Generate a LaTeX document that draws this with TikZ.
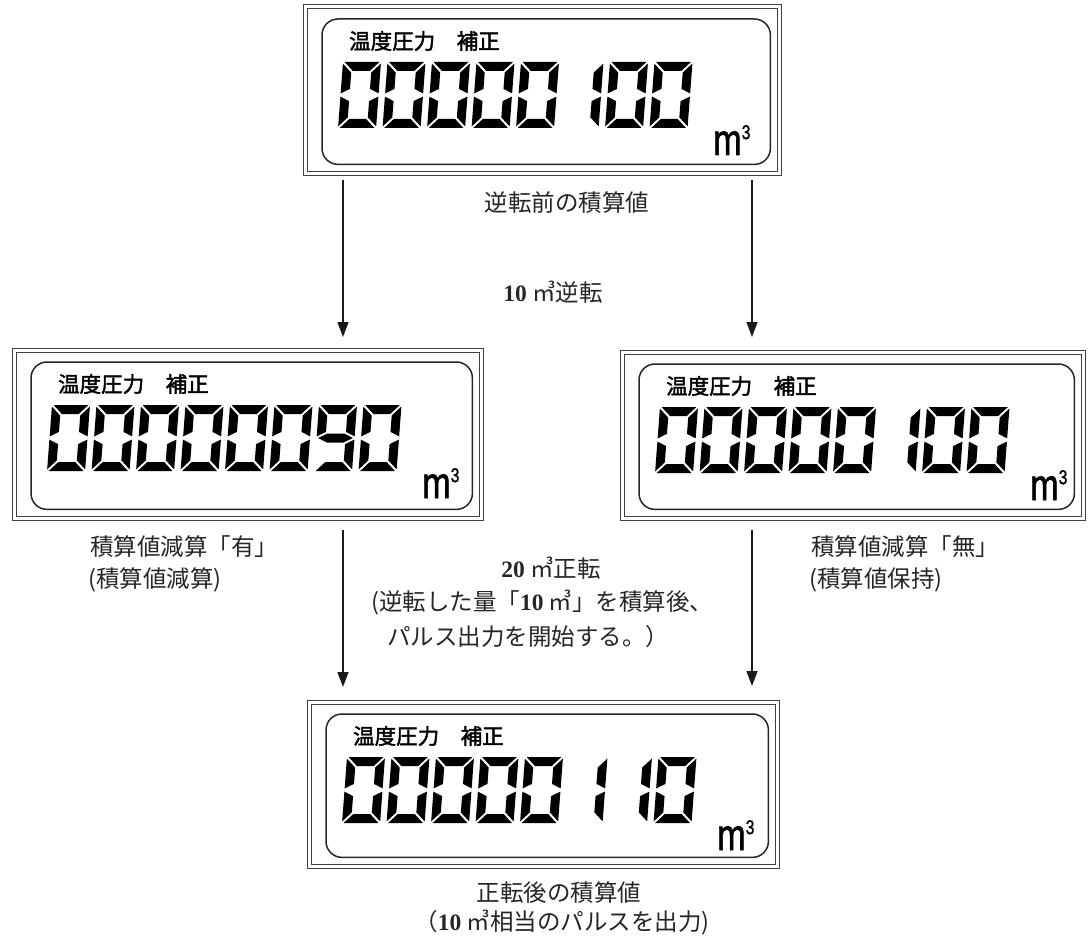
\documentclass[tikz,border=0pt]{standalone}
\usepackage{fontspec}
\newfontfamily\jp{Noto Sans CJK JP}
\newfontfamily\jpb{Noto Sans CJK JP}[FakeBold=2]
\newfontfamily\unitfont{Liberation Sans}[FakeBold=1.5]
\newfontfamily\numfont{Liberation Serif}
\usetikzlibrary{arrows.meta}
\newcommand\num[1]{{\numfont\bfseries #1}}
\def\dgW{38}\def\dgH{66}\def\dgT{9}\def\dgG{1.6}
\newcommand\sgA{\fill[seg] (\dgG,0) -- ({\dgW-\dgG},0) -- ({\dgW-\dgT-\dgG},\dgT) -- ({\dgT+\dgG},\dgT) -- cycle;}
\newcommand\sgD{\fill[seg] (\dgG,\dgH) -- ({\dgW-\dgG},\dgH) -- ({\dgW-\dgT-\dgG},{\dgH-\dgT}) -- ({\dgT+\dgG},{\dgH-\dgT}) -- cycle;}
\newcommand\sgF{\fill[seg] (0,\dgG) -- (\dgT,{\dgT+\dgG}) -- (\dgT,{\dgH/2-\dgT/2-\dgG}) -- (0,{\dgH/2-\dgG}) -- cycle;}
\newcommand\sgB{\fill[seg] (\dgW,\dgG) -- ({\dgW-\dgT},{\dgT+\dgG}) -- ({\dgW-\dgT},{\dgH/2-\dgT/2-\dgG}) -- (\dgW,{\dgH/2-\dgG}) -- cycle;}
\newcommand\sgE{\fill[seg] (0,{\dgH/2+\dgG}) -- (\dgT,{\dgH/2+\dgT/2+\dgG}) -- (\dgT,{\dgH-\dgT-\dgG}) -- (0,{\dgH-\dgG}) -- cycle;}
\newcommand\sgC{\fill[seg] (\dgW,{\dgH/2+\dgG}) -- ({\dgW-\dgT},{\dgH/2+\dgT/2+\dgG}) -- ({\dgW-\dgT},{\dgH-\dgT-\dgG}) -- (\dgW,{\dgH-\dgG}) -- cycle;}
\newcommand\sgG{\fill[seg] (\dgG,{\dgH/2}) -- ({\dgT+\dgG},{\dgH/2-\dgT/2}) -- ({\dgW-\dgT-\dgG},{\dgH/2-\dgT/2}) -- ({\dgW-\dgG},{\dgH/2}) -- ({\dgW-\dgT-\dgG},{\dgH/2+\dgT/2}) -- ({\dgT+\dgG},{\dgH/2+\dgT/2}) -- cycle;}
\newcommand\lcddigit[3]{%
  \begin{scope}[shift={({#1},{#2})}, xslant=0.075]
    \ifcase#3\relax \sgA\sgB\sgC\sgD\sgE\sgF\or \sgB\sgC\or\or\or\or\or\or\or\or \sgA\sgB\sgC\sgD\sgF\sgG\fi
  \end{scope}}
\newcommand\lcdbox[6]{%
  \node[inner sep=0, minimum width=#4pt, minimum height=#5pt, anchor=north west] (#1) at (#2,#3) {};
  \draw[frameline] (#1.north west) rectangle (#1.south east);
  \draw[frameline] ([shift={(4,4)}]#1.north west) rectangle ([shift={(-4,-4)}]#1.south east);
  \draw[lcdline] ([shift={(19,14)}]#1.north west) rectangle ([shift={(-11,-11)}]#1.south east);
  \node[hdr, anchor=west] at ([shift={(46,36)}]#1.north west) {温度圧力　補正};
  \foreach \d [count=\i from 0] in {#6} {\lcddigit{#2+40+44.5*\i}{#3+57}{\d}}
  \node[unit, anchor=base west] at ([shift={(410,150)}]#1.north west) {m\raisebox{0.36em}{\fontsize{20}{20}\selectfont 3}};
}
\begin{document}
\begin{tikzpicture}[x=1pt, y=-1pt,
  frameline/.style={draw=black!75, line width=1pt},
  lcdline/.style={draw=black!85, line width=1.5pt, rounded corners=16pt},
  seg/.style={fill=black},
  arr/.style={draw=black!90, line width=1.4pt, -{Triangle[length=15pt,width=11pt]}},
  lbl/.style={font=\jp\fontsize{23.5}{28}\selectfont, text=black!85, inner sep=0},
  hdr/.style={font=\jpb\fontsize{21.5}{24}\selectfont, inner sep=0},
  unit/.style={font=\unitfont\fontsize{44}{44}\selectfont, inner sep=0, xscale=0.78}]
\useasboundingbox (0,0) rectangle (1088,939);
\fill[white] (0,0) rectangle (1088,939);

\lcdbox{top}{303}{5}{478}{170}{0,0,0,0,0,1,0,0}
\lcdbox{ml}{12}{348}{471}{172}{0,0,0,0,0,0,9,0}
\lcdbox{mr}{620}{350}{465}{170}{0,0,0,0,0,1,0,0}
\lcdbox{bot}{307}{700}{472}{168}{0,0,0,0,0,1,1,0}

\coordinate (cL) at (343,0);
\coordinate (cR) at (752,0);
\draw[arr, shorten <=5pt, shorten >=11pt] (top.south -| cL) -- (ml.north -| cL);
\draw[arr, shorten <=5pt, shorten >=13pt] (top.south -| cR) -- (mr.north -| cR);
\draw[arr, shorten <=10pt, shorten >=13pt] (ml.south -| cL) -- (bot.north -| cL);
\draw[arr, shorten <=10pt, shorten >=14pt] (mr.south -| cR) -- (bot.north -| cR);

\node[lbl] (t1) at (567,203) {逆転前の積算値};
\node[lbl] (t2) at (553,292) {\num{10} ㎥逆転};
\node[lbl, anchor=west] (t3) at (90,547) {積算値減算「有」};
\node[lbl, anchor=west] (t4) at (88,580) {(積算値減算)};
\node[lbl, anchor=west] (t5) at (811,547) {積算値減算「無」};
\node[lbl, anchor=west] (t6) at (809,580) {(積算値保持)};
\node[lbl] (t7) at (551,568) {\num{20} ㎥正転};
\node[lbl, anchor=west] (t8) at (371,603) {(逆転した量「\num{10} ㎥」を積算後、};
\node[lbl, anchor=west] (t9) at (387,637) {パルス出力を開始する。）};
\node[lbl] (t10) at (559,893) {正転後の積算値};
\node[lbl] (t11) at (562,923) {（\num{10} ㎥相当のパルスを出力)};
\end{tikzpicture}
\end{document}
